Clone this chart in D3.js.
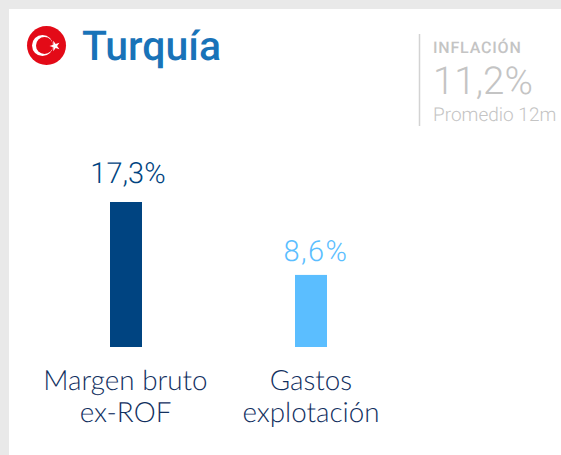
<!DOCTYPE html>
<html><head><meta charset="utf-8">
<script src="https://cdn.jsdelivr.net/npm/d3@7/dist/d3.min.js"></script>
<style>html,body{margin:0;padding:0;background:#fff;overflow:hidden}svg{display:block}text{text-rendering:geometricPrecision}</style>
</head><body><div id="c"></div>
<script>
const categories = [["Margen bruto","ex-ROF"],["Gastos","explotación"]];
const values = [17.3, 8.6];
const valueLabels = ["17,3%","8,6%"];
const colors = ["#004481","#5BBEFF"];
const title = "Turquía";
const sideHeading = "INFLACIÓN";
const sideValue = "11,2%";
const sideNote = "Promedio 12m";

const W=561,H=455;
const svg=d3.select("#c").append("svg").attr("width",W).attr("height",H);
svg.append("rect").attr("width",W).attr("height",H).attr("fill","#e9e9e9");
svg.append("rect").attr("x",9).attr("y",9).attr("width",W-9).attr("height",H-9).attr("fill","#fff");

// flag
const flag=svg.append("g").attr("transform","translate(46.5,45.5)");
flag.append("circle").attr("r",19.5).attr("fill","#E30A17");
flag.append("circle").attr("cx",-4).attr("r",10.5).attr("fill","#fff");
flag.append("circle").attr("cx",-2).attr("r",8.5).attr("fill","#E30A17");
flag.append("path").attr("transform","translate(8.5,0.5) rotate(-90)")
  .attr("d",d3.symbol(d3.symbolStar,34)).attr("fill","#fff");

svg.append("text").attr("x",82).attr("y",59.5).text(title)
  .attr("font-family","Roboto, sans-serif").attr("font-weight",500).attr("font-size",41).attr("fill","#1973B8");

// side panel
svg.append("line").attr("x1",419.5).attr("x2",419.5).attr("y1",34).attr("y2",126).attr("stroke","#d3d3d3").attr("stroke-width",1.5);
const side=(t,y,s,w,ls)=>svg.append("text").attr("x",433).attr("y",y).text(t).attr("font-family","Roboto, sans-serif")
  .attr("font-size",s).attr("font-weight",w).attr("fill","#c4c4c4").attr("letter-spacing",ls||0);
side(sideHeading,53,16,500,0.8);
side(sideValue,94,38.5,300);
side(sideNote,121,19,300);

// bars
const x=d3.scalePoint().domain(d3.range(values.length)).range([126,311]);
const y=d3.scaleLinear().domain([0,17.3]).range([347,202]);
const barW=32;
svg.selectAll("rect.bar").data(values).join("rect").attr("class","bar")
  .attr("x",(d,i)=>x(i)-barW/2).attr("width",barW)
  .attr("y",d=>y(d)).attr("height",d=>y(0)-y(d))
  .attr("fill",(d,i)=>colors[i]);
svg.selectAll("text.val").data(values).join("text").attr("class","val")
  .attr("x",(d,i)=>i==0?x(i)+2:x(i)+5).attr("y",(d,i)=>i==0?y(d)-19:y(d)-14).attr("text-anchor","middle")
  .text((d,i)=>valueLabels[i]).attr("font-family","Roboto, sans-serif").attr("font-weight",300)
  .attr("font-size",29).attr("letter-spacing",(d,i)=>i==0?0:1.4).attr("fill",(d,i)=>colors[i]);
categories.forEach((lines,i)=>lines.forEach((l,j)=>{
  svg.append("text").attr("x",i==0?125.5:311).attr("y",390+j*32).attr("text-anchor","middle").text(l)
   .attr("font-family","Lato, sans-serif").attr("font-weight",300).attr("font-size",27.8).attr("fill","#12305F");
}));
</script></body></html>
